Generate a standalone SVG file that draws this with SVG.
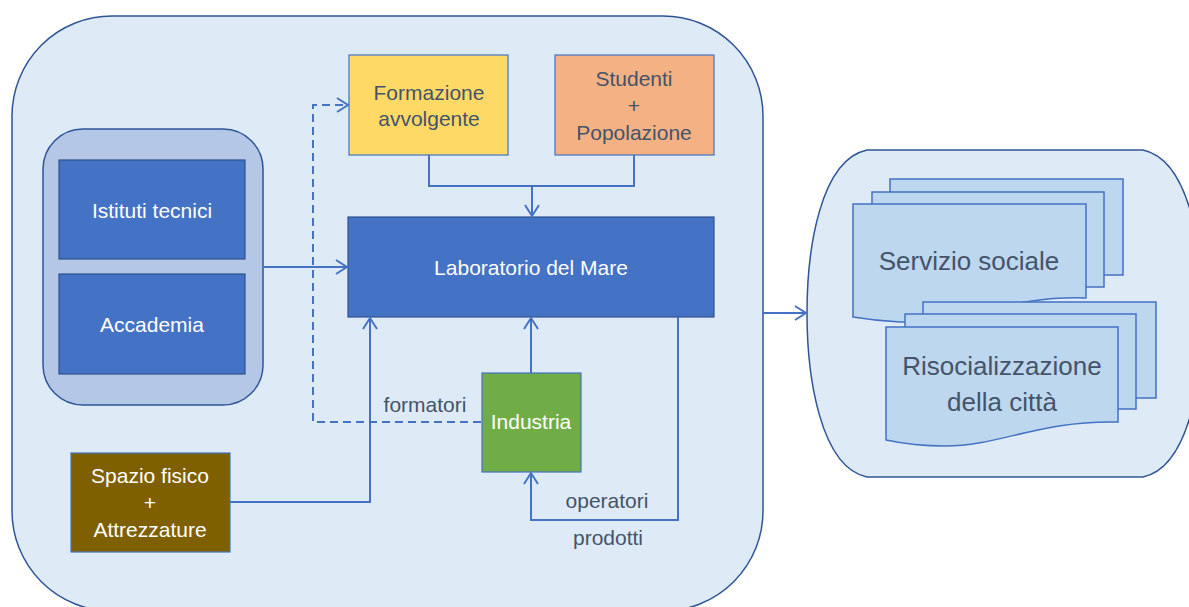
<svg xmlns="http://www.w3.org/2000/svg" width="1189" height="607" viewBox="0 0 1189 607">
<style>
text{font-family:"Liberation Sans",Arial,sans-serif;font-size:21px;text-anchor:middle}
.w{fill:#ffffff}
.d{fill:#44546A}
.big{font-size:26px}
.blue{fill:#4472C4;stroke:#2F528F;stroke-width:1.2}
.doc{fill:#BDD7EE;stroke:#4472C4;stroke-width:1.5}
.con{fill:none;stroke:#4472C4;stroke-width:2}
.dash{stroke-dasharray:8 5}
</style>
<defs>
<marker id="ah" markerWidth="14" markerHeight="16" refX="12" refY="8" orient="auto" markerUnits="userSpaceOnUse">
<path d="M1,1 L12,8 L1,15" fill="none" stroke="#4472C4" stroke-width="2"/>
</marker>
</defs>
<rect width="1189" height="607" fill="#ffffff"/>
<g id="outer">
<rect x="12" y="16" width="751" height="595" rx="100" ry="100" fill="#DEEBF7" stroke="#2F5597" stroke-width="1.5"/>
</g>
<g id="right-group">
<path d="M867,150 H1143 C1190,160 1203,250 1203,313 C1203,376 1190,467 1143,477 H867 C820,467 807,376 807,313 C807,250 820,160 867,150 Z" fill="#DEEBF7" stroke="#2F5597" stroke-width="1.5"/>
</g>
<g id="left-group">
<rect x="43" y="129" width="220" height="276" rx="40" ry="40" fill="#B4C7E7" stroke="#2F5597" stroke-width="1.5"/>
</g>
<g id="istituti">
<rect class="blue" x="59" y="160" width="186" height="99"/>
<text class="w" x="152" y="218">Istituti tecnici</text>
</g>
<g id="accademia">
<rect class="blue" x="59" y="274" width="186" height="100"/>
<text class="w" x="152" y="332">Accademia</text>
</g>
<g id="formazione">
<rect x="349" y="55" width="159" height="100" fill="#FFD966" stroke="#4472C4" stroke-width="1.2"/>
<text class="d" x="429" y="100">Formazione</text>
<text class="d" x="429" y="126">avvolgente</text>
</g>
<g id="studenti">
<rect x="555" y="55" width="159" height="100" fill="#F4B183" stroke="#4472C4" stroke-width="1.2"/>
<text class="d" x="634" y="86">Studenti</text>
<text class="d" x="634" y="113">+</text>
<text class="d" x="634" y="140">Popolazione</text>
</g>
<g id="laboratorio">
<rect class="blue" x="348" y="217" width="366" height="100"/>
<text class="w" x="531" y="275">Laboratorio del Mare</text>
</g>
<g id="industria">
<rect x="482" y="373" width="99" height="99" fill="#70AD47" stroke="#4472C4" stroke-width="1.2"/>
<text class="w" x="531" y="429">Industria</text>
</g>
<g id="spazio">
<rect x="71" y="453" width="159" height="99" fill="#7F6000" stroke="#4472C4" stroke-width="1.2"/>
<text class="w" x="150" y="483">Spazio fisico</text>
<text class="w" x="150" y="510">+</text>
<text class="w" x="150" y="537">Attrezzature</text>
</g>
<g id="servizio">
<rect class="doc" x="890" y="179" width="233" height="96"/>
<rect class="doc" x="872" y="192" width="232" height="95"/>
<path class="doc" d="M853,204 H1086 V298 C1010,295 960,324 900,322 C880,321 865,319 853,317 Z"/>
<text class="d big" x="969" y="270">Servizio sociale</text>
</g>
<g id="risocializzazione">
<rect class="doc" x="923" y="302" width="233" height="96"/>
<rect class="doc" x="905" y="314" width="231" height="95"/>
<path class="doc" d="M886,327 H1118 V422 C1040,420 1000,446 945,446 C920,446 900,443 886,440 Z"/>
<text class="d big" x="1002" y="375">Risocializzazione</text>
<text class="d big" x="1002" y="411">della città</text>
</g>
<g id="connectors">
<path class="con" d="M263,267 H347" marker-end="url(#ah)"/>
<path class="con" d="M429,155 V186 H634 V155"/>
<path class="con" d="M532,186 V216" marker-end="url(#ah)"/>
<path class="con dash" d="M481,422 H313 V105 H348" marker-end="url(#ah)"/>
<path class="con" d="M531,373 V318" stroke-width="2.5" marker-end="url(#ah)"/>
<path class="con" d="M230,502 H370 V318" marker-end="url(#ah)"/>
<path class="con" d="M678,317 V520 H531 V473" marker-end="url(#ah)"/>
<path class="con" d="M763,313 H806" marker-end="url(#ah)"/>
<text class="d" x="425" y="412">formatori</text>
<text class="d" x="607" y="508">operatori</text>
<text class="d" x="608" y="545">prodotti</text>
</g>
</svg>
